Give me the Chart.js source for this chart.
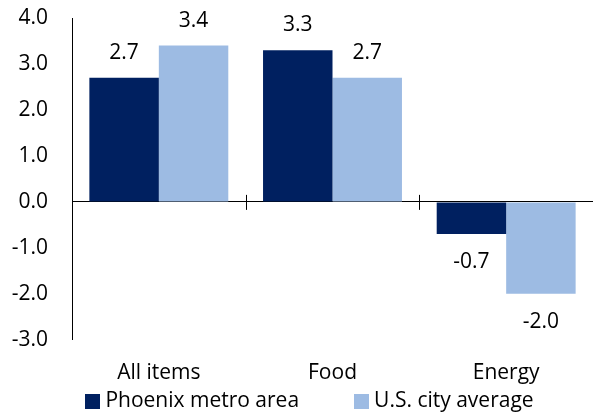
<!DOCTYPE html>
<html>
<head>
<meta charset="utf-8">
<script src="https://cdn.jsdelivr.net/npm/chart.js@4.4.0/dist/chart.umd.min.js"></script>
<style>
  html, body { margin: 0; padding: 0; background: #fff; }
  #wrap { width: 593px; height: 414px; position: relative; }
</style>
</head>
<body>
<div id="wrap"><canvas id="myChart"></canvas></div>
<script>
var categories = ['All items', 'Food', 'Energy'];
var phoenix = [2.7, 3.3, -0.7];
var usAverage = [3.4, 2.7, -2.0];
var seriesNames = ['Phoenix metro area', 'U.S. city average'];

var FONT = '"Open Sans", sans-serif';
var FSIZE = 21;

// value labels above / below each bar
var barLabels = {
  id: 'barLabels',
  afterDatasetsDraw: function(chart) {
    var ctx = chart.ctx;
    ctx.save();
    ctx.font = FSIZE + 'px ' + FONT;
    ctx.fillStyle = '#000';
    ctx.textAlign = 'center';
    ctx.textBaseline = 'middle';
    chart.data.datasets.forEach(function(ds, i) {
      chart.getDatasetMeta(i).data.forEach(function(bar, j) {
        var v = ds.data[j];
        var y = v >= 0 ? bar.y - 25 : bar.y + 28;
        ctx.fillText(v.toFixed(1), bar.x, y);
      });
    });
    ctx.restore();
  }
};

// short tick marks between categories on the zero line
var zeroTicks = {
  id: 'zeroTicks',
  afterDatasetsDraw: function(chart) {
    var ctx = chart.ctx, x = chart.scales.x, y0 = chart.scales.y.getPixelForValue(0);
    ctx.save();
    ctx.strokeStyle = '#000';
    ctx.lineWidth = 1;
    for (var i = 1; i < categories.length; i++) {
      var px = Math.round((x.getPixelForValue(i - 1) + x.getPixelForValue(i)) / 2) + 0.5;
      ctx.beginPath();
      ctx.moveTo(px, y0 - 7);
      ctx.lineTo(px, y0 + 8);
      ctx.stroke();
    }
    ctx.restore();
  }
};

// legend drawn under the axis, items spaced like the original
var bottomLegend = {
  id: 'bottomLegend',
  afterDraw: function(chart) {
    var ctx = chart.ctx;
    var box = 15, gapText = 5, gapItem = 55;
    ctx.save();
    ctx.font = FSIZE + 'px ' + FONT;
    var widths = chart.data.datasets.map(function(ds) {
      return box + gapText + ctx.measureText(ds.label).width;
    });
    var total = widths.reduce(function(a, b) { return a + b; }, 0) + gapItem * (widths.length - 1);
    var x = chart.width / 2 + 13 - total / 2;
    var y = chart.height - 13;
    ctx.textBaseline = 'middle';
    ctx.textAlign = 'left';
    chart.data.datasets.forEach(function(ds, i) {
      ctx.fillStyle = ds.backgroundColor;
      ctx.fillRect(Math.round(x), Math.round(y - box / 2), box, box);
      ctx.fillStyle = '#000';
      ctx.fillText(ds.label, x + box + gapText, y);
      x += widths[i] + gapItem;
    });
    ctx.restore();
  }
};

new Chart(document.getElementById('myChart'), {
  type: 'bar',
  data: {
    labels: categories,
    datasets: [{
      label: seriesNames[0],
      data: phoenix,
      backgroundColor: '#002060'
    }, {
      label: seriesNames[1],
      data: usAverage,
      backgroundColor: '#9dbbe3'
    }]
  },
  options: {
    responsive: true,
    maintainAspectRatio: false,
    animation: false,
    categoryPercentage: 0.8,
    barPercentage: 1.0,
    layout: { padding: { top: 18, right: 0, left: 0, bottom: 7 } },
    plugins: {
      tooltip: { enabled: false },
      legend: { display: false }
    },
    scales: {
      x: {
        grid: { display: false, drawTicks: false },
        border: { display: false },
        ticks: { font: { family: FONT, size: FSIZE }, color: '#000', padding: 21 }
      },
      y: {
        min: -3,
        max: 4,
        afterFit: function(scale) {
          scale.width = 72;
          scale.paddingTop = 0;
          scale.paddingBottom = 0;
        },
        grid: {
          drawTicks: false,
          color: function(c) { return c.tick && c.tick.value === 0 ? '#000' : 'rgba(0,0,0,0)'; },
          lineWidth: 1
        },
        border: { display: true, color: '#000' },
        ticks: {
          stepSize: 1,
          padding: 24,
          font: { family: FONT, size: FSIZE },
          color: '#000',
          callback: function(v) { return v.toFixed(1); }
        }
      }
    }
  },
  plugins: [barLabels, zeroTicks, bottomLegend]
});
</script>
</body>
</html>
